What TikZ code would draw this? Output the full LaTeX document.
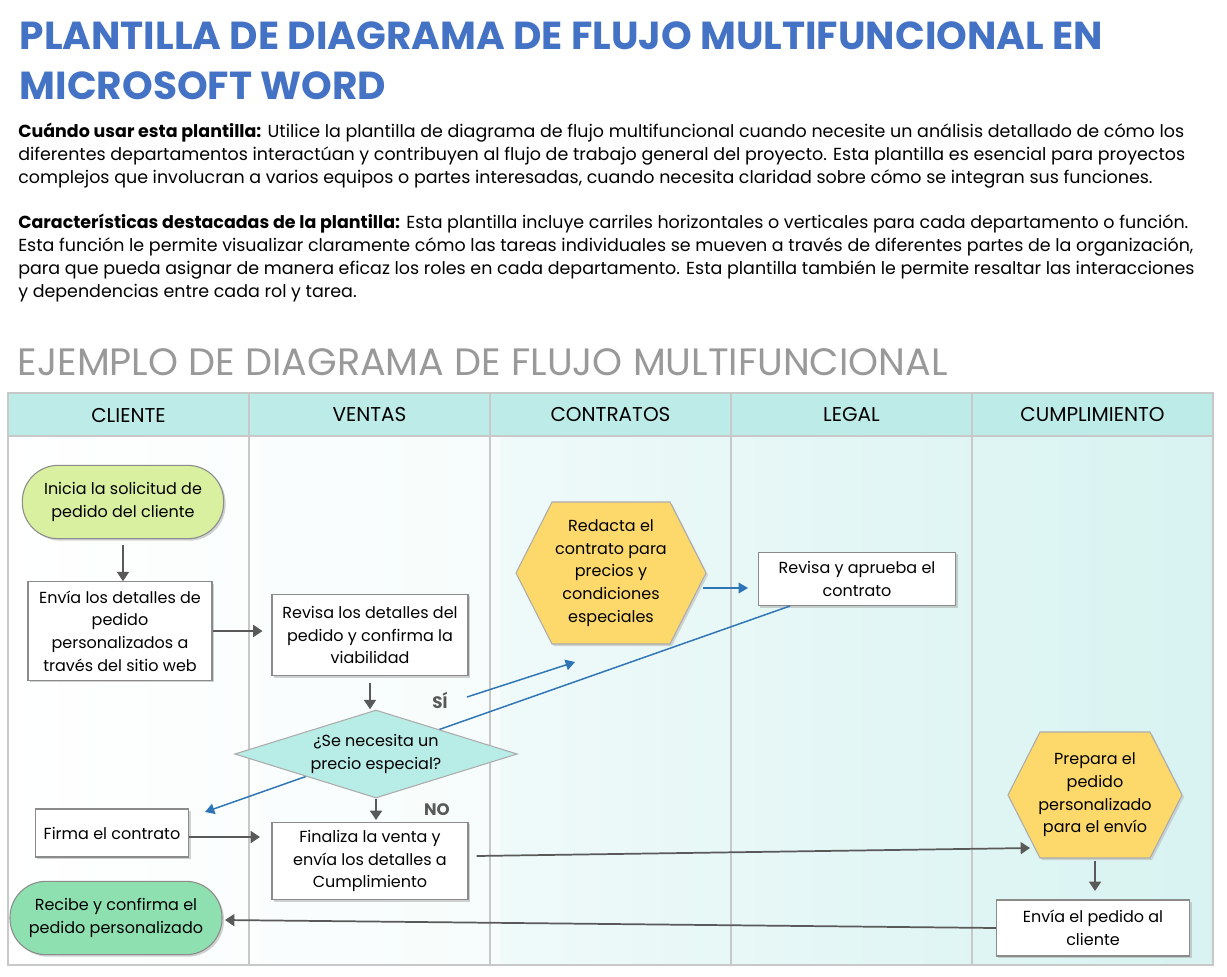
\documentclass[tikz,border=0pt]{standalone}
\usepackage{fontspec}
\setmainfont{Poppins}
\usetikzlibrary{shapes.geometric,shadows,arrows.meta}
\definecolor{ttl}{RGB}{68,114,196}
\definecolor{hdr}{RGB}{189,235,232}
\definecolor{lane}{RGB}{200,200,200}
\definecolor{grn}{RGB}{217,240,160}
\definecolor{grn2}{RGB}{143,224,176}
\definecolor{yel}{RGB}{253,216,106}
\definecolor{dia}{RGB}{184,236,230}
\definecolor{arr}{RGB}{89,89,89}
\definecolor{blu}{RGB}{46,117,182}
\newcommand{\myhex}[5]{% cx cy halfw halfh inset
 \draw[draw=arr!50,fill=yel,line width=0.8pt,drop shadow={shadow xshift=1.5pt,shadow yshift=-1.5pt,fill=black!30}]
 (#1-#3,#2) -- (#1-#3+#5,#2-#4) -- (#1+#3-#5,#2-#4) -- (#1+#3,#2) -- (#1+#3-#5,#2+#4) -- (#1-#3+#5,#2+#4) -- cycle;}
\tikzset{
 x=0.75pt,y=-0.75pt,
 txt/.style={font=\fontsize{12}{17}\selectfont,align=center,text=black},
 boxn/.style={txt,draw=arr!70,fill=white,line width=0.8pt,drop shadow={shadow xshift=1.5pt,shadow yshift=-1.5pt,fill=black!35}},
 pill/.style={txt,draw=arr!70,rounded corners=27pt,line width=0.8pt,drop shadow={shadow xshift=1.5pt,shadow yshift=-1.5pt,fill=black!35}},
 garr/.style={draw=arr,line width=1.3pt,-{Triangle[length=7pt,width=9pt]}},
 barr/.style={draw=blu,line width=1.1pt,-{Triangle[length=7pt,width=8pt]}},
 hd/.style={font=\fontsize{15}{18}\selectfont,text=black}
}
\begin{document}
\begin{tikzpicture}
\useasboundingbox (0,0) rectangle (1227,977);
\fill[white] (0,0) rectangle (1227,977);
% title
\node[anchor=west,text=ttl,font=\fontsize{29.3}{30}\selectfont\bfseries] (t1) at (15,36) {PLANTILLA DE DIAGRAMA DE FLUJO MULTIFUNCIONAL EN};
\node[anchor=west,text=ttl,font=\fontsize{29.3}{30}\selectfont\bfseries] (t2) at (15,86) {MICROSOFT WORD};
\node[anchor=north west,align=left,font=\fontsize{13.1}{17.2}\selectfont,inner sep=0pt] (p1) at (18,123) {\textbf{Cuándo usar esta plantilla:} Utilice la plantilla de diagrama de flujo multifuncional cuando necesite un análisis detallado de cómo los\\diferentes departamentos interactúan y contribuyen al flujo de trabajo general del proyecto. Esta plantilla es esencial para proyectos\\complejos que involucran a varios equipos o partes interesadas, cuando necesita claridad sobre cómo se integran sus funciones.};
\node[anchor=north west,align=left,font=\fontsize{13.1}{17.2}\selectfont,inner sep=0pt] (p2) at (18,214) {\textbf{Características destacadas de la plantilla:} Esta plantilla incluye carriles horizontales o verticales para cada departamento o función.\\Esta función le permite visualizar claramente cómo las tareas individuales se mueven a través de diferentes partes de la organización,\\para que pueda asignar de manera eficaz los roles en cada departamento. Esta plantilla también le permite resaltar las interacciones\\y dependencias entre cada rol y tarea.};
\node[anchor=west,text=black!40,font=\fontsize{28.6}{30}\selectfont] (t3) at (13,362) {EJEMPLO DE DIAGRAMA DE FLUJO MULTIFUNCIONAL};
% lanes
\shade[left color=white,right color=hdr!60] (8,436) rectangle (1213,965);
\fill[white,opacity=0.5] (8,436) rectangle (500,965);
\fill[hdr] (8,393) rectangle (1213,436);
\draw[lane,line width=1pt] (8,393) rectangle (1213,965);
\draw[lane,line width=1pt] (8,436) -- (1213,436);
\foreach \x in {249,490,731,972} \draw[lane,line width=1pt] (\x,393) -- (\x,965);
\node[hd] (h1) at (128.5,415) {CLIENTE};
\node[hd] (h2) at (369.5,415) {VENTAS};
\node[hd] (h3) at (610.5,415) {CONTRATOS};
\node[hd] (h4) at (851.5,415) {LEGAL};
\node[hd] (h5) at (1092.5,415) {CUMPLIMIENTO};
% nodes
\node[pill,fill=grn,minimum width=151pt,minimum height=55pt] (s) at (123,502) {Inicia la solicitud de\\pedido del cliente};
\node[boxn,minimum width=138pt,minimum height=74pt] (e) at (120,631) {Envía los detalles de\\pedido\\personalizados a\\través del sitio web};
\node[boxn,minimum width=147pt,minimum height=61pt] (r) at (370,635) {Revisa los detalles del\\pedido y confirma la\\viabilidad};
\myhex{611}{573}{95}{71}{36}
\node[txt,minimum width=143pt,minimum height=107pt] (h) at (611,573) {Redacta el\\contrato para\\precios y\\condiciones\\especiales};
\node[boxn,minimum width=148pt,minimum height=40pt] (l) at (857,579) {Revisa y aprueba el\\contrato};
\coordinate (lb) at (790,606);
\coordinate (fa) at (205,812);
\draw[barr] (lb) -- (fa);
\node[txt,diamond,aspect=3.2,draw=arr!50,fill=dia,line width=0.8pt,inner sep=1pt,minimum width=212pt,minimum height=66pt] (d) at (376,754) {¿Se necesita un\\precio especial?};
\node[boxn,minimum width=115pt,minimum height=36pt] (f) at (112,833) {Firma el contrato};
\node[boxn,minimum width=147pt,minimum height=58pt] (fi) at (370,861) {Finaliza la venta y\\envía los detalles a\\Cumplimiento};
\myhex{1095}{795}{87}{63}{32}
\node[txt,minimum width=130pt,minimum height=94pt] (p) at (1095,795) {Prepara el\\pedido\\personalizado\\para el envío};
\node[boxn,minimum width=145pt,minimum height=42pt] (ep) at (1093,928) {Envía el pedido al\\cliente};
\node[pill,fill=grn2,minimum width=159pt,minimum height=55pt] (rc) at (116,918) {Recibe y confirma el\\pedido personalizado};
% arrows
\draw[garr] (s.south) ++(0,6) -- ++(0,36);
\draw[garr] (e.east) -- ++(50,0);
\draw[garr] (r.south) ++(0,7) -- ++(0,26);
\draw[garr] (d.south) -- (376,820);
\draw[garr] (f.east) ++(0,4) -- (260,837);
\draw[garr] (fi.east) ++(8,-5) -- (1030,848);
\draw[garr] (1095,861) -- (1095,891);
\draw[garr] (ep.west) -- (225,920);
\draw[barr] (703,588) -- (748,588);
\draw[barr] (467,697) -- (575,662);
\node[font=\fontsize{12.5}{14}\selectfont\bfseries,text=arr] (si) at (440,700) {SÍ};
\node[font=\fontsize{12.5}{14}\selectfont\bfseries,text=arr] (no) at (437,810) {NO};
\end{tikzpicture}
\end{document}
